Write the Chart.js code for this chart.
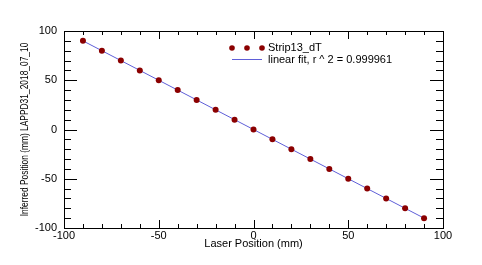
<!DOCTYPE html>
<html>
<head>
<meta charset="utf-8">
<script src="https://cdn.jsdelivr.net/npm/chart.js@4/dist/chart.umd.min.js"></script>
<style>
  html, body { margin: 0; padding: 0; background: #fff; }
  #wrap { width: 482px; height: 265px; }
</style>
</head>
<body>
<div id="wrap"><canvas id="chart" width="482" height="265"></canvas></div>
<script>
// Measured points (laser position vs inferred position)
const laserX = [-90, -80, -70, -60, -50, -40, -30, -20, -10, 0, 10, 20, 30, 40, 50, 60, 70, 80, 90];
const inferredY = [90, 80, 70, 60, 50, 40, 30, 20, 10, 0, -10, -20, -30, -40, -50, -60, -70, -80, -90];

// Linear fit end points
const fitX = [-90, 90];
const fitY = [90, -90];

const seriesName = 'Strip13_dT';
const fitName = 'linear fit, r ^ 2 = 0.999961';
const xTitle = 'Laser Position (mm)';
const yTitle = 'Inferred Position (mm) LAPPD31_2018_07_10';

const pointColor = '#8b0000';
const fitColor = '#5f5fd8';
const font = 'Liberation Sans, Arial, sans-serif';

// ROOT style inward tick marks on all four sides
const insideTicks = {
    id: 'insideTicks',
    afterDraw(chart) {
        const ctx = chart.ctx;
        const a = chart.chartArea;
        const xs = chart.scales.x, ys = chart.scales.y;
        ctx.save();
        ctx.strokeStyle = '#000';
        ctx.lineWidth = 1;
        ctx.beginPath();
        for (let v = -100; v <= 100; v += 10) {
            const major = v % 50 === 0;
            const px = Math.round(xs.getPixelForValue(v)) + 0.5;
            const xl = major ? 8 : 4;
            ctx.moveTo(px, a.bottom); ctx.lineTo(px, a.bottom - xl);
            ctx.moveTo(px, a.top); ctx.lineTo(px, a.top + xl);
            const py = Math.round(ys.getPixelForValue(v)) + 0.5;
            const yl = major ? 13 : 7;
            ctx.moveTo(a.left, py); ctx.lineTo(a.left + yl, py);
            ctx.moveTo(a.right, py); ctx.lineTo(a.right - yl, py);
        }
        ctx.stroke();
        ctx.strokeRect(a.left + 0.5, a.top + 0.5, a.right - a.left, a.bottom - a.top);
        ctx.restore();
    }
};

// Condensed vertical y title, centred on the plot area
const yTitleText = {
    id: 'yTitleText',
    afterDraw(chart) {
        const ctx = chart.ctx;
        const a = chart.chartArea;
        ctx.save();
        ctx.translate(25, (a.top + a.bottom) / 2);
        ctx.rotate(-Math.PI / 2);
        ctx.scale(0.84, 1);
        ctx.fillStyle = '#000';
        ctx.font = '10px ' + font;
        ctx.textAlign = 'center';
        ctx.textBaseline = 'middle';
        ctx.fillText(yTitle, 0, 0);
        ctx.restore();
    }
};

// Legend box drawn inside the frame
const fitLegend = {
    id: 'fitLegend',
    afterDraw(chart) {
        const ctx = chart.ctx;
        ctx.save();
        ctx.fillStyle = pointColor;
        [232, 247, 262].forEach(x => {
            ctx.beginPath();
            ctx.arc(x, 48, 2.8, 0, Math.PI * 2);
            ctx.fill();
        });
        ctx.strokeStyle = fitColor;
        ctx.lineWidth = 1;
        ctx.beginPath();
        ctx.moveTo(232, 59.5);
        ctx.lineTo(262, 59.5);
        ctx.stroke();
        ctx.fillStyle = '#000';
        ctx.font = '11px ' + font;
        ctx.textBaseline = 'middle';
        ctx.fillText(seriesName, 268, 48);
        ctx.fillText(fitName, 268, 60);
        ctx.restore();
    }
};

new Chart(document.getElementById('chart'), {
    type: 'scatter',
    data: {
        datasets: [
            {
                label: seriesName,
                data: laserX.map((x, i) => ({ x: x, y: inferredY[i] })),
                backgroundColor: pointColor,
                borderColor: pointColor,
                pointRadius: 3,
                pointBorderWidth: 0,
                order: 0
            },
            {
                label: fitName,
                data: fitX.map((x, i) => ({ x: x, y: fitY[i] })),
                showLine: true,
                borderColor: fitColor,
                borderWidth: 1,
                pointRadius: 0,
                order: 1
            }
        ]
    },
    options: {
        responsive: false,
        animation: false,
        layout: { padding: { left: 0, top: 31, right: 39, bottom: 0 } },
        plugins: { legend: { display: false }, tooltip: { enabled: false } },
        scales: {
            x: {
                type: 'linear',
                min: -100, max: 100,
                grid: { display: false, drawTicks: false },
                border: { display: false },
                ticks: { stepSize: 50, padding: 1, color: '#000', font: { family: font, size: 11 } },
                title: { display: true, text: xTitle, color: '#000', font: { family: font, size: 11 }, padding: { top: 0, bottom: 14 } },
                afterFit(scale) { scale.height = 37; }
            },
            y: {
                type: 'linear',
                min: -100, max: 100,
                grid: { display: false, drawTicks: false },
                border: { display: false },
                ticks: { stepSize: 50, padding: 7, color: '#000', font: { family: font, size: 11 } },
                title: { display: false, text: yTitle },
                afterFit(scale) { scale.width = 64; }
            }
        }
    },
    plugins: [insideTicks, yTitleText, fitLegend]
});
</script>
</body>
</html>
